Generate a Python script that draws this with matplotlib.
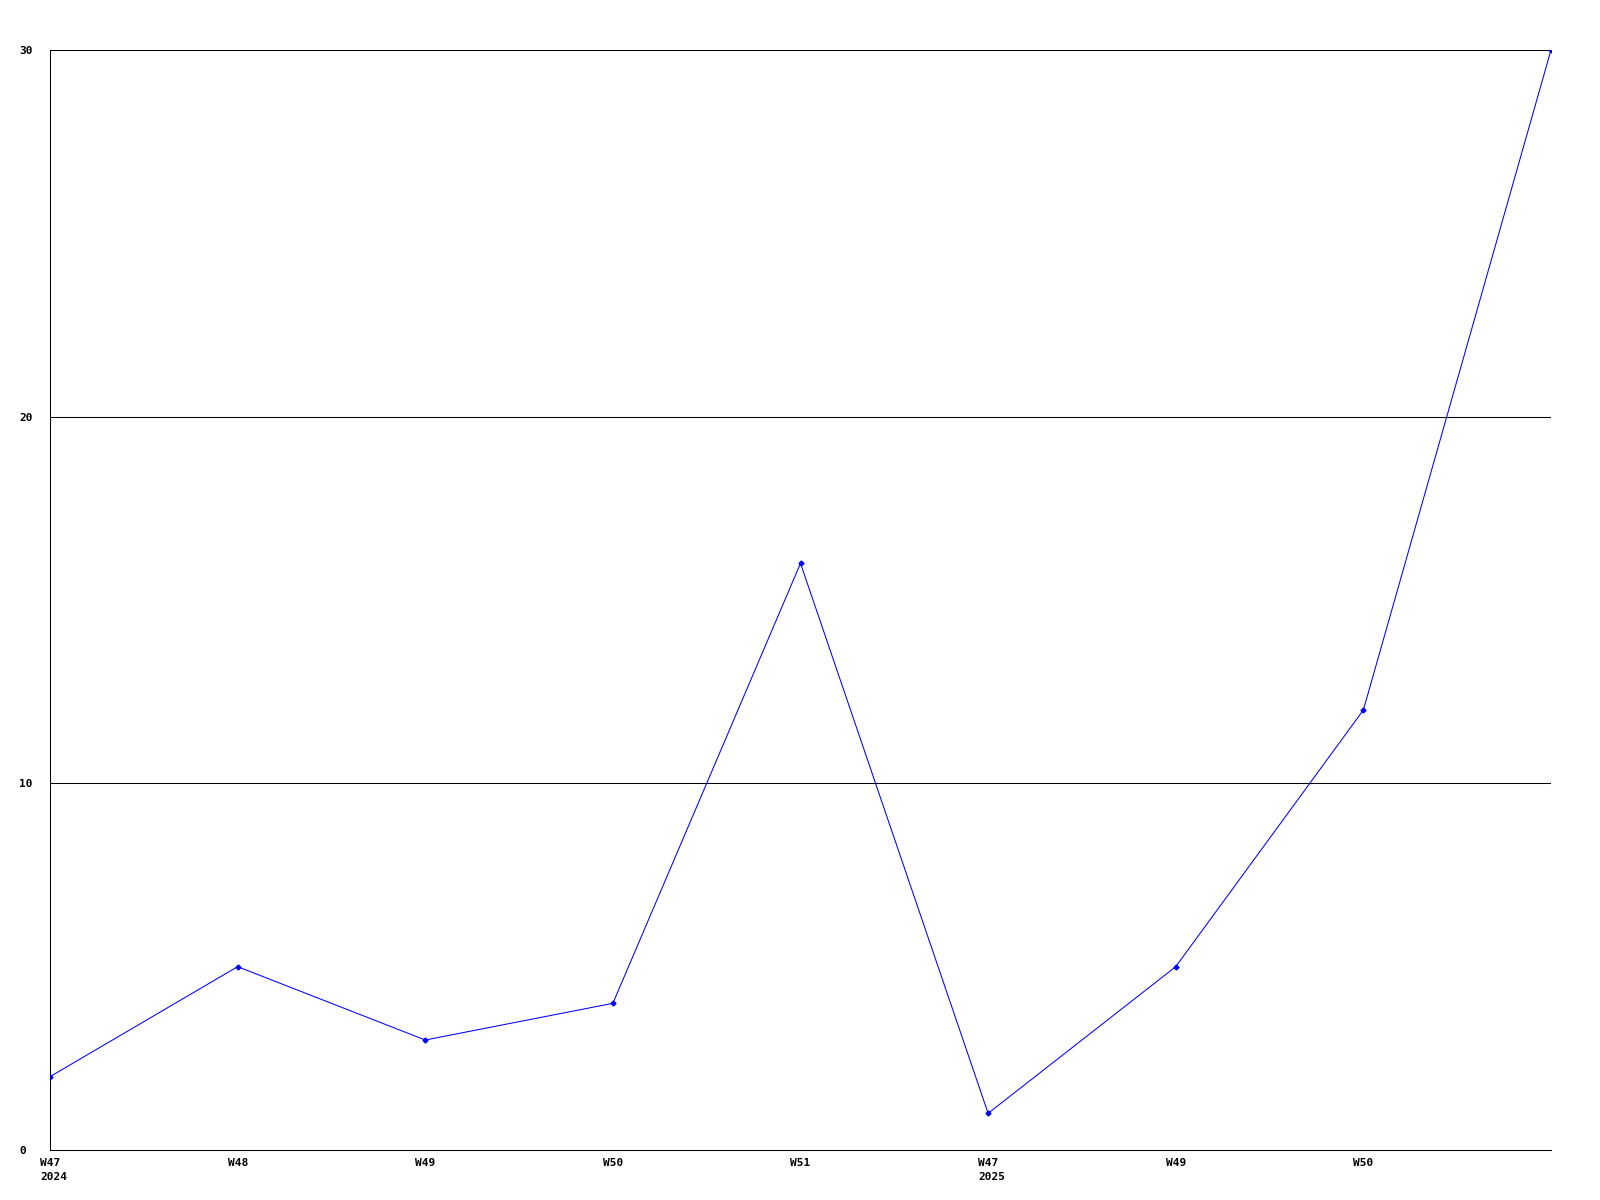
import matplotlib
matplotlib.use('Agg')
import matplotlib.pyplot as plt
import matplotlib.transforms as mtransforms

# Weekly counts
week_labels = ['W47\n2024', 'W48', 'W49', 'W50', 'W51', 'W47\n2025', 'W49', 'W50', '']
counts = [2, 5, 3, 4, 16, 1, 5, 12, 30]
y_ticks = [0, 10, 20, 30]

plt.rcParams['font.family'] = ['DejaVu Sans Mono']
plt.rcParams['font.weight'] = 'bold'
plt.rcParams['font.size'] = 8

fig = plt.figure(figsize=(16, 12), dpi=100)
ax = fig.add_axes([50 / 1600, 1 - 1150 / 1200, 1501 / 1600, 1100 / 1200])

x = list(range(len(counts)))
ax.plot(x, counts, color='#0000ff', linewidth=0.75, marker='D', markersize=2.5,
        zorder=3)

ax.set_xlim(0, len(counts) - 1)
ax.set_ylim(0, 30)

# horizontal grid lines
for v in y_ticks[1:]:
    ax.axhline(v, color='black', linewidth=0.75, zorder=1)

ax.set_yticks(y_ticks)
ax.set_yticklabels([str(v) for v in y_ticks], ha='left')
ax.set_xticks(x)
ax.set_xticklabels(week_labels, ha='left', multialignment='left', linespacing=1.5)
ax.tick_params(axis='both', length=0)
ax.tick_params(axis='y', pad=22)
ax.tick_params(axis='x', pad=6)

offset = mtransforms.ScaledTranslation(-10 / 100, 0, fig.dpi_scale_trans)
for lbl in ax.get_xticklabels():
    lbl.set_transform(lbl.get_transform() + offset)

for side in ['top', 'right']:
    ax.spines[side].set_visible(False)
for side in ['left', 'bottom']:
    ax.spines[side].set_linewidth(0.75)
    ax.spines[side].set_color('black')

fig.savefig('out.png', dpi=100)
